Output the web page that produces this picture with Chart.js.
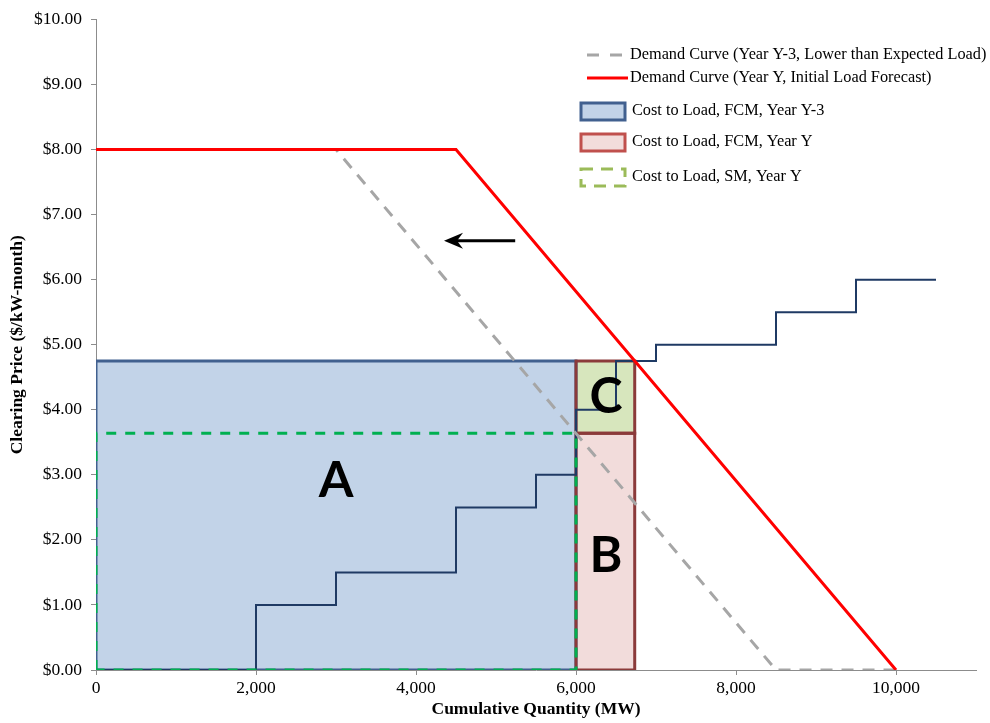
<!DOCTYPE html>
<html lang="en">
<head>
<meta charset="UTF-8">
<title>Cost to Load - FCM vs SM</title>
<script src="https://cdn.jsdelivr.net/npm/chart.js"></script>
<style>
  html, body { margin: 0; padding: 0; background: #fff; }
</style>
</head>
<body>
<canvas id="fcmChart" width="990" height="723"></canvas>
<script>
// supply offer stack (stepped), MW and $/kW-month
const supplyQty   = [0, 2000, 2000, 3000, 3000, 4500, 4500, 5500, 5500, 6000, 6000, 6500, 6500, 7000, 7000, 8500, 8500, 9500, 9500, 10500];
const supplyPrice = [0, 0,    1,    1,    1.5,  1.5,  2.5,  2.5,  3,    3,    4,    4,    4.75, 4.75, 5,    5,    5.5,  5.5,  6,    6];

// demand curves
const demandQtyY   = [0, 4500, 10000];
const demandPriceY = [8, 8, 0];
const demandQtyY3   = [0, 3000, 8500, 10000];
const demandPriceY3 = [8, 8, 0, 0];

// clearing results
const fcmPriceY3 = 4.75;   // FCM price cleared in year Y-3
const fcmQtyY3 = 6000;     // quantity cleared in Y-3
const fcmQtyY = 6734;      // where the year Y curve meets the FCM price
const smPrice = 3.64;      // spot market price in year Y

// axis ticks
const yTicks = [0, 1, 2, 3, 4, 5, 6, 7, 8, 9, 10];
const xTicks = [0, 2000, 4000, 6000, 8000, 10000];

// region labels and the shift arrow (data coordinates)
const regionNames = ['A', 'B', 'C'];
const regionX = [3000, 6375, 6375];
const regionY = [2.9, 1.75, 4.2];
const arrowX = [5240, 4350];
const arrowY = [6.6, 6.6];

const SERIF = "'Liberation Serif', 'Times New Roman', serif";

function pts(xs, ys) {
    return xs.map((x, i) => ({ x: x, y: ys[i] }));
}
// closed outline of a box
function rect(x0, x1, y0, y1) {
    return pts([x0, x0, x1, x1, x0], [y0, y1, y1, y0, y0]);
}
// top edge of a box, filled down to its base
function topEdge(x0, x1, y1) {
    return pts([x0, x1], [y1, y1]);
}

const COL = {
    aFill: '#c2d3e8', aLine: '#41608f',
    bFill: '#f2dcdb', bLine: '#8b3a3a',
    cFill: '#d7e6bd',
    sm: '#00b050',
    red: '#ff0000',
    gray: '#a6a6a6',
    supply: '#1f3a64'
};

const overlay = {
    id: 'overlay',
    afterDatasetsDraw(chart) {
        const ctx = chart.ctx;
        const xs = chart.scales.x, ys = chart.scales.y;
        ctx.save();

        // region letters
        ctx.fillStyle = '#000';
        ctx.font = "bold 50px Lato, 'Liberation Sans', sans-serif";
        ctx.textAlign = 'center';
        ctx.textBaseline = 'middle';
        regionNames.forEach((n, i) => {
            ctx.fillText(n, xs.getPixelForValue(regionX[i]), ys.getPixelForValue(regionY[i]));
        });

        // arrow showing the demand shift
        const x0 = xs.getPixelForValue(arrowX[0]), x1 = xs.getPixelForValue(arrowX[1]);
        const y0 = ys.getPixelForValue(arrowY[0]);
        ctx.strokeStyle = '#000';
        ctx.lineWidth = 3;
        ctx.beginPath();
        ctx.moveTo(x0, y0);
        ctx.lineTo(x1 + 10, y0);
        ctx.stroke();
        ctx.beginPath();
        ctx.moveTo(x1, y0);
        ctx.lineTo(x1 + 19, y0 - 8);
        ctx.lineTo(x1 + 13, y0);
        ctx.lineTo(x1 + 19, y0 + 8);
        ctx.closePath();
        ctx.fillStyle = '#000';
        ctx.fill();

        // legend
        ctx.font = '16.3px ' + SERIF;
        ctx.textAlign = 'left';
        ctx.textBaseline = 'middle';
        ctx.lineCap = 'butt';

        ctx.strokeStyle = COL.gray;
        ctx.lineWidth = 3;
        ctx.setLineDash([12, 11]);
        ctx.beginPath(); ctx.moveTo(587, 55); ctx.lineTo(624, 55); ctx.stroke();
        ctx.setLineDash([]);
        ctx.fillStyle = '#000';
        ctx.fillText('Demand Curve (Year Y-3, Lower than Expected Load)', 630, 55);

        ctx.strokeStyle = COL.red;
        ctx.beginPath(); ctx.moveTo(587, 78); ctx.lineTo(628, 78); ctx.stroke();
        ctx.fillText('Demand Curve (Year Y, Initial Load Forecast)', 630, 78);

        const boxes = [
            [COL.aFill, COL.aLine, [], 111, 'Cost to Load, FCM, Year Y-3'],
            [COL.bFill, '#c0504d', [], 142, 'Cost to Load, FCM, Year Y'],
            [null, '#9bbb59', [12, 8], 177, 'Cost to Load, SM, Year Y']
        ];
        boxes.forEach(b => {
            if (b[0]) {
                ctx.fillStyle = b[0];
                ctx.fillRect(581, b[3] - 8, 44, 17);
            }
            ctx.strokeStyle = b[1];
            ctx.lineWidth = 3;
            ctx.setLineDash(b[2]);
            ctx.strokeRect(581, b[3] - 8, 44, 17);
            ctx.setLineDash([]);
            ctx.fillStyle = '#000';
            ctx.fillText(b[4], 632, b[3]);
        });

        ctx.restore();
    }
};

Chart.defaults.font.family = SERIF;
Chart.defaults.font.size = 17.5;
Chart.defaults.color = '#000';

function outline(label, data, color, dash, order) {
    return {
        label: label, data: data, borderColor: color, borderWidth: 3,
        borderDash: dash, fill: false, order: order
    };
}
function area(label, data, color, base, order) {
    return {
        label: label, data: data, borderWidth: 0, borderColor: 'rgba(0,0,0,0)',
        backgroundColor: color, fill: { value: base }, order: order
    };
}

new Chart(document.getElementById('fcmChart'), {
    type: 'line',
    data: {
        datasets: [
            outline('Demand Curve (Year Y, Initial Load Forecast)', pts(demandQtyY, demandPriceY), COL.red, [], 1),
            outline('Demand Curve (Year Y-3, Lower than Expected Load)', pts(demandQtyY3, demandPriceY3), COL.gray, [12, 9], 2),
            outline('Cost to Load, SM, Year Y', rect(0, fcmQtyY3, 0, smPrice), COL.sm, [10, 9], 3),
            { label: 'Supply', data: pts(supplyQty, supplyPrice), borderColor: COL.supply, borderWidth: 2, fill: false, order: 4 },
            outline('C border', rect(fcmQtyY3, fcmQtyY, smPrice, fcmPriceY3), COL.bLine, [], 5),
            outline('Cost to Load, FCM, Year Y', rect(fcmQtyY3, fcmQtyY, 0, smPrice), COL.bLine, [], 6),
            outline('Cost to Load, FCM, Year Y-3', rect(0, fcmQtyY3, 0, fcmPriceY3), COL.aLine, [], 7),
            area('C fill', topEdge(fcmQtyY3, fcmQtyY, fcmPriceY3), COL.cFill, smPrice, 8),
            area('B fill', topEdge(fcmQtyY3, fcmQtyY, smPrice), COL.bFill, 0, 9),
            area('A fill', topEdge(0, fcmQtyY3, fcmPriceY3), COL.aFill, 0, 10)
        ]
    },
    options: {
        responsive: false,
        animation: false,
        layout: { padding: { top: 15, right: 14, left: 0, bottom: 0 } },
        elements: {
            point: { radius: 0, hoverRadius: 0 },
            line: { tension: 0, borderJoinStyle: 'miter', borderCapStyle: 'butt' }
        },
        plugins: {
            legend: { display: false },
            tooltip: { enabled: false }
        },
        scales: {
            x: {
                type: 'linear',
                min: 0,
                max: 11000,
                afterFit(scale) { scale.height = 53; },
                afterBuildTicks(scale) { scale.ticks = xTicks.map(v => ({ value: v })); },
                border: { color: '#8c8c8c', width: 1 },
                grid: { drawOnChartArea: false, drawTicks: true, tickLength: 5, color: '#8c8c8c' },
                ticks: {
                    padding: 3,
                    maxRotation: 0,
                    callback: v => v.toLocaleString('en-US')
                },
                title: {
                    display: true,
                    text: 'Cumulative Quantity (MW)',
                    font: { weight: 'bold', size: 17.5 },
                    padding: { top: 0, bottom: 3 }
                }
            },
            y: {
                min: 0,
                max: 10,
                afterFit(scale) { scale.width = 96; },
                afterBuildTicks(scale) { scale.ticks = yTicks.map(v => ({ value: v })); },
                border: { color: '#8c8c8c', width: 1 },
                grid: { drawOnChartArea: false, drawTicks: true, tickLength: 5, color: '#8c8c8c' },
                ticks: {
                    padding: 9,
                    callback: v => '$' + v.toFixed(2)
                },
                title: {
                    display: true,
                    text: 'Clearing Price ($/kW-month)',
                    font: { weight: 'bold', size: 17.5 },
                    padding: { top: 7, bottom: 0 }
                }
            }
        }
    },
    plugins: [overlay]
});
</script>
</body>
</html>
